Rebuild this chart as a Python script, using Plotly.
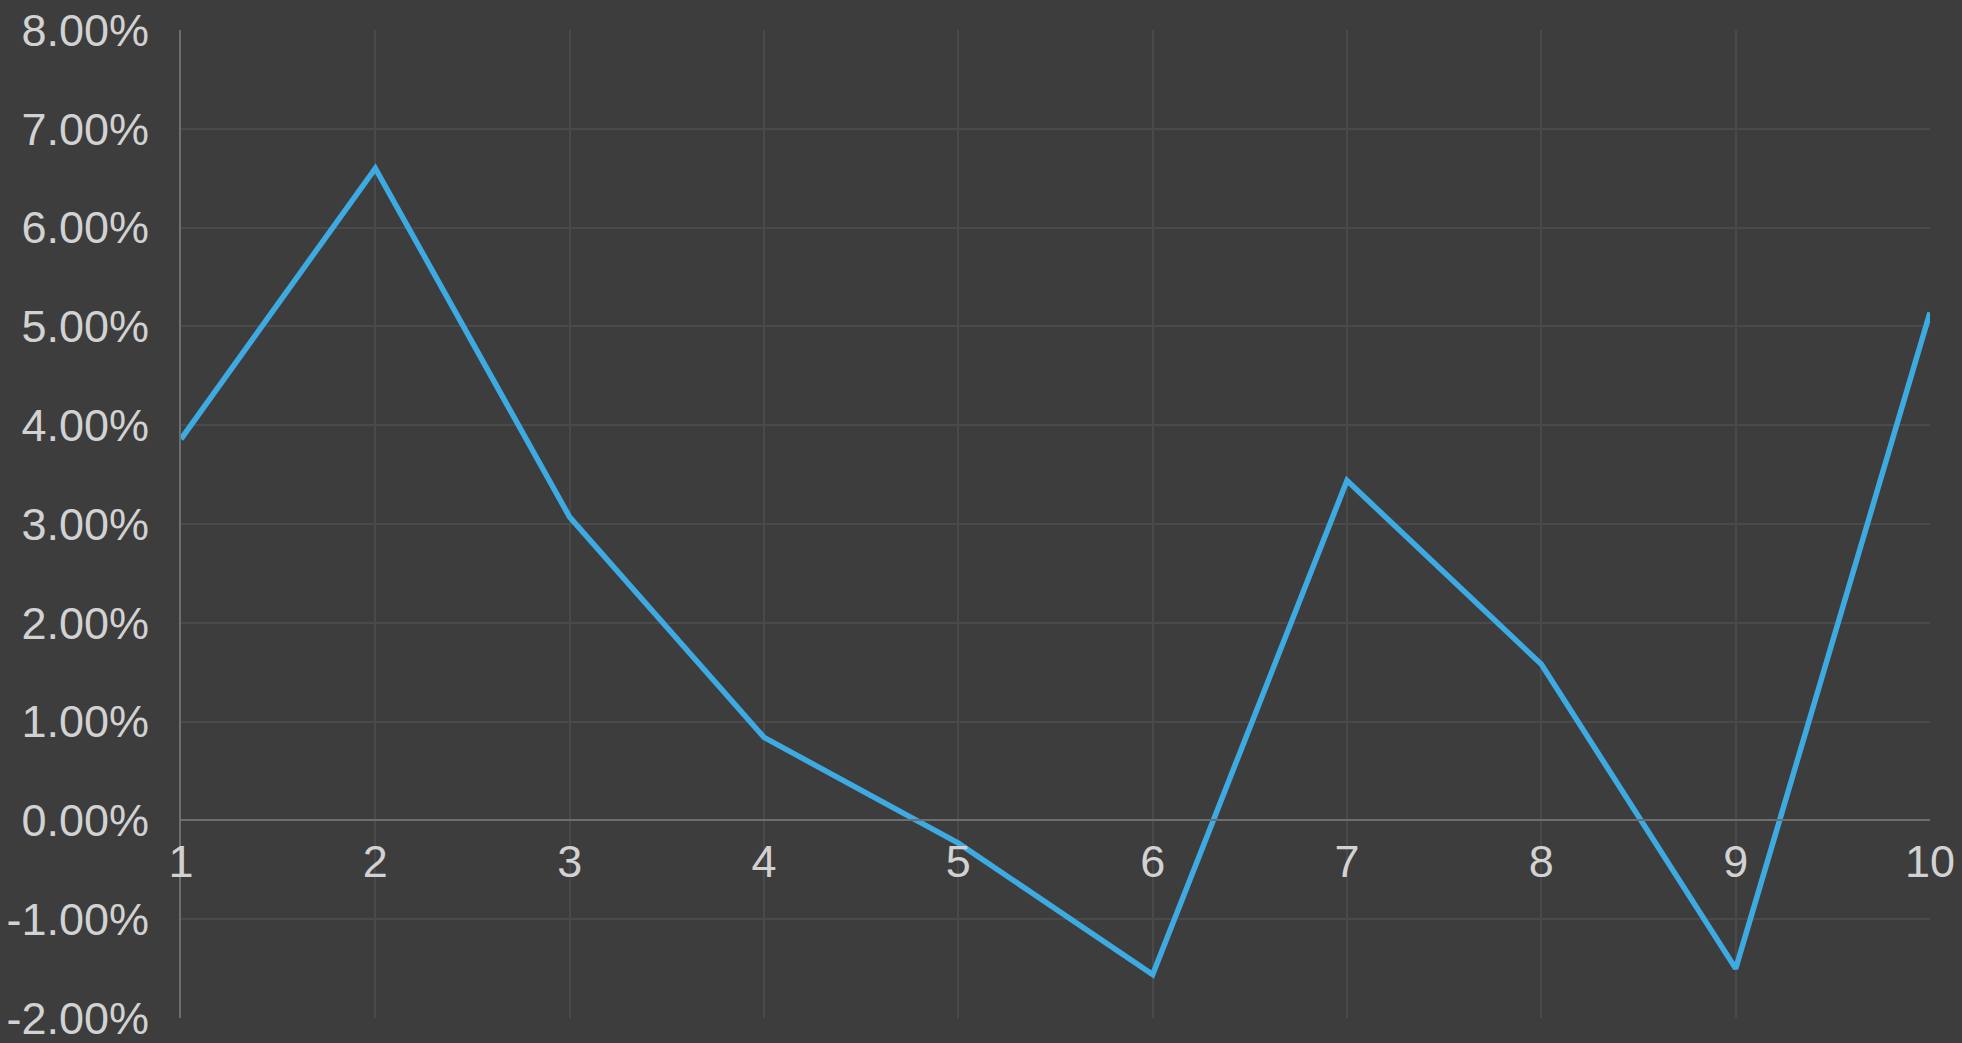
import plotly.graph_objects as go

# Data
periods = [1, 2, 3, 4, 5, 6, 7, 8, 9, 10]
returns_pct = [3.86, 6.60, 3.07, 0.84, -0.23, -1.56, 3.44, 1.58, -1.50, 5.14]

y_tick_vals = [-2, -1, 0, 1, 2, 3, 4, 5, 6, 7, 8]
y_tick_text = ["-2.00%", "-1.00%", "0.00%", "1.00%", "2.00%", "3.00%",
               "4.00%", "5.00%", "6.00%", "7.00%", "8.00%"]
x_tick_vals = periods
x_tick_text = ["1", "2", "3", "4", "5", "6", "7", "8", "9", "10"]

BG = "#3d3d3d"
GRID = "#4a4a4a"
AXIS = "#6e6e6e"
TEXT = "#d2d2d2"
LINE = "#3eaae2"
FONT = "Liberation Sans, Arial, sans-serif"

y_min, y_max = -2, 8

fig = go.Figure()
fig.add_trace(go.Scatter(
    x=periods, y=returns_pct, mode="lines",
    line=dict(color=LINE, width=5.5),
    hoverinfo="skip", showlegend=False,
))

fig.update_layout(
    width=1962, height=1043,
    margin=dict(l=181, r=32, t=30, b=25),
    paper_bgcolor=BG, plot_bgcolor=BG,
    font=dict(family=FONT, size=45, color=TEXT),
    showlegend=False,
)

fig.update_xaxes(
    range=[1, 10],
    tickvals=x_tick_vals, ticktext=x_tick_text,
    showgrid=True, gridcolor=GRID, gridwidth=1.5,
    showline=True, linecolor=AXIS, linewidth=2,
    zeroline=False,
    anchor="free",
    position=(0 - y_min) / (y_max - y_min),
    ticks="", ticklabelstandoff=2,
    ticklabeloverflow="allow",
    automargin=False,
    tickfont=dict(family=FONT, size=45, color=TEXT),
)
fig.update_yaxes(
    range=[y_min, y_max],
    tickvals=y_tick_vals, ticktext=y_tick_text,
    showgrid=True, gridcolor=GRID, gridwidth=1.5,
    showline=True, linecolor=AXIS, linewidth=2,
    zeroline=True, zerolinecolor=AXIS, zerolinewidth=2,
    ticks="", ticklabelstandoff=21,
    ticklabeloverflow="allow",
    automargin=False,
    tickfont=dict(family=FONT, size=45, color=TEXT),
)

fig.write_html(
    "out.html",
    config={"displayModeBar": False},
    post_script="document.body.style.margin='0';document.body.style.background='#3d3d3d';",
)
